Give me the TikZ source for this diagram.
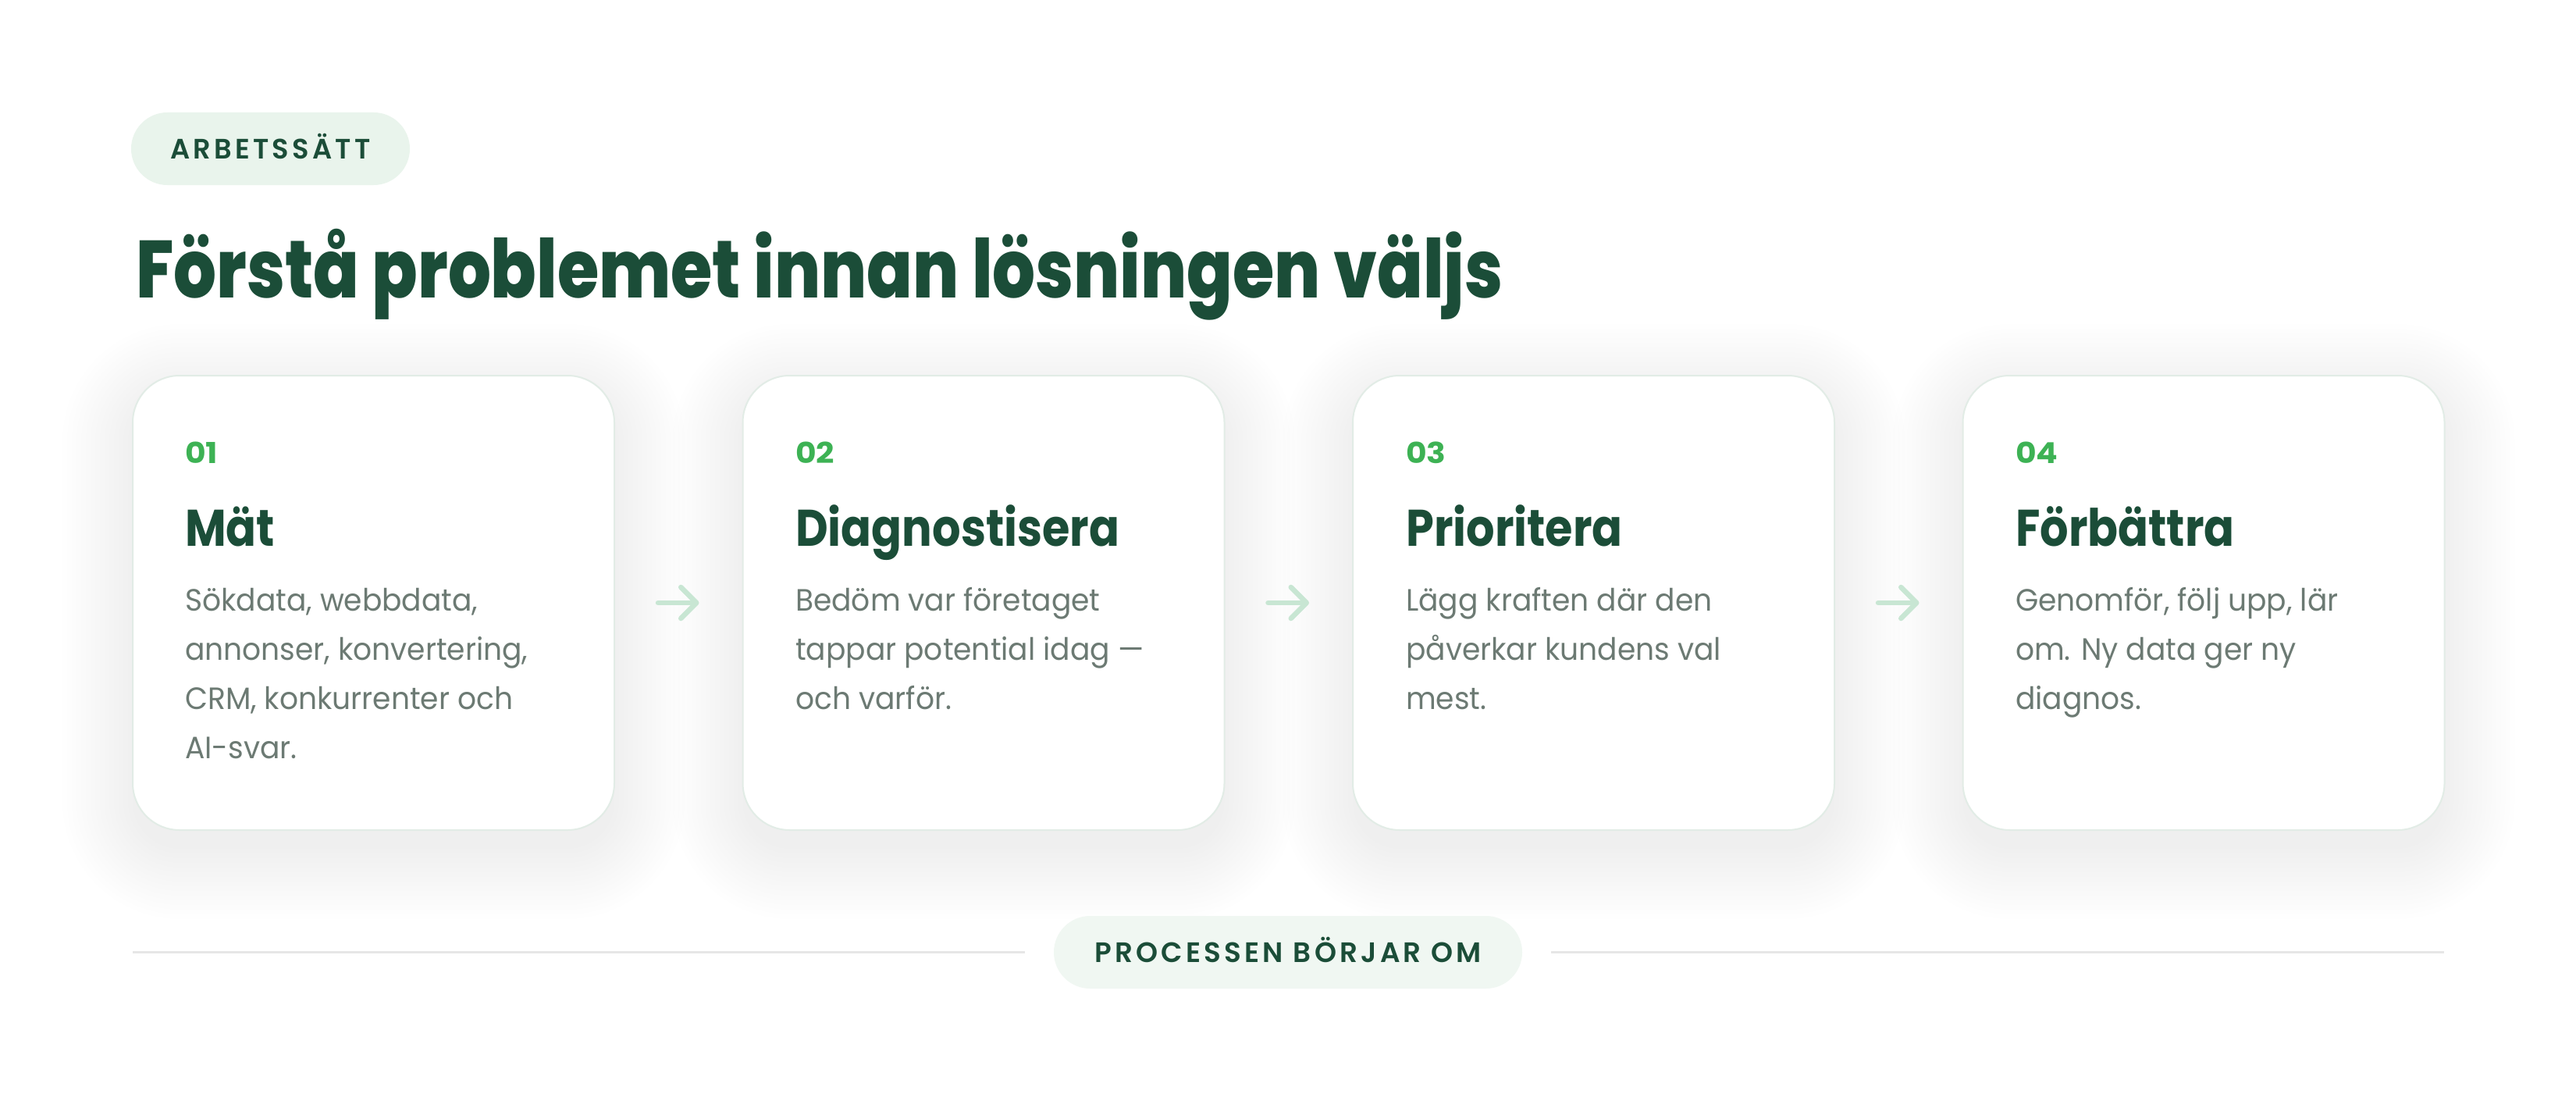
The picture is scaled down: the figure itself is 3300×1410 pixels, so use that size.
\documentclass[tikz,border=0pt]{standalone}
\usepackage{fontspec}
\setmainfont{Poppins}
\IfFontExistsTF{Poppins ExtraBold}{\newfontfamily\titlefont{Poppins ExtraBold}}{\newfontfamily\titlefont{Poppins}[UprightFont={* Bold}]}
\IfFontExistsTF{Poppins Bold}{\newfontfamily\headfont{Poppins Bold}}{\newfontfamily\headfont{Poppins}}
\IfFontExistsTF{Poppins SemiBold}{\newfontfamily\labelfont{Poppins SemiBold}[LetterSpace=12]}{\newfontfamily\labelfont{Poppins}[LetterSpace=12]}
\newfontfamily\bodyfont{Poppins}
\usetikzlibrary{arrows.meta,backgrounds}
\definecolor{dkgreen}{RGB}{27,77,56}
\definecolor{numgreen}{RGB}{61,178,84}
\definecolor{bodygray}{RGB}{108,122,115}
\definecolor{pillA}{RGB}{233,244,236}
\definecolor{pillB}{RGB}{240,247,242}
\definecolor{cardline}{RGB}{226,236,230}
\definecolor{arrowgreen}{RGB}{200,230,211}
\definecolor{rulegray}{RGB}{230,230,230}
\definecolor{shadowcol}{RGB}{20,50,35}
\newsavebox\fitbox
\newcommand\fitto[2]{\sbox\fitbox{#2}\pgfmathsetmacro\fitf{#1/\the\wd\fitbox}\scalebox{\fitf}[1]{\usebox\fitbox}}
\newcommand\bt[1]{\scalebox{\bodyf}[1]{\bodyfont\fontsize{39.5}{44}\selectfont #1}}
\newcommand\hd[1]{\scalebox{\headf}[1]{\headfont\fontsize{66}{70}\selectfont #1}}
\newcommand\nm[1]{\scalebox{\numf}[1]{\headfont\fontsize{37}{40}\selectfont #1}}
\begin{document}
\sbox\fitbox{\bodyfont\fontsize{39.5}{44}\selectfont annonser, konvertering,}%
\pgfmathsetmacro\bodyf{439/\the\wd\fitbox}%
\sbox\fitbox{\headfont\fontsize{66}{70}\selectfont Diagnostisera}%
\pgfmathsetmacro\headf{415/\the\wd\fitbox}%
\sbox\fitbox{\headfont\fontsize{37}{40}\selectfont 02}%
\pgfmathsetmacro\numf{50/\the\wd\fitbox}%
\begin{tikzpicture}[x=1pt,y=-1pt,
  card/.style={draw=cardline, line width=2pt, fill=white, rounded corners=60pt,
    minimum width=617pt, minimum height=582pt, inner sep=0pt, outer sep=0pt},
  pill/.style={fill=#1, rounded corners=46.5pt, minimum height=93pt, inner sep=0pt,
    outer sep=0pt, text height=26pt, text depth=0pt, text=dkgreen},
  num/.style={anchor=base west, inner sep=0pt, text=numgreen},
  head/.style={anchor=base west, inner sep=0pt, text=dkgreen},
  body/.style={anchor=base west, inner sep=0pt, text=bodygray},
  flow/.style={draw=arrowgreen, line width=6.5pt, line cap=round, shorten <=56pt, shorten >=56pt,
    -{Straight Barb[length=20pt,width=40pt,line join=round,line cap=round]}},
  rule/.style={draw=rulegray, line width=3pt},
]
\useasboundingbox (0,0) rectangle (3300,1410);

% header
\node[pill=pillA, minimum width=357pt] (tag) at (346.5,190.5)
  {\labelfont\fontsize{36}{40}\selectfont\fitto{256}{ARBETSSÄTT}};
\node[head] (title) at (174,381)
  {\titlefont\fontsize{104}{110}\selectfont\fitto{1751}{Förstå problemet innan lösningen väljs}};

% cards
\node[card] (c1) at (478.5,772) {};
\node[card] (c2) at (1260,772) {};
\node[card] (c3) at (2041.5,772) {};
\node[card] (c4) at (2823,772) {};

% card 1
\node[num]  (n1) at (237,593) {\nm{01}};
\node[head] (h1) at (237,699) {\hd{Mät}};
\node[body] (b11) at (237,782) {\bt{Sökdata, webbdata,}};
\node[body] (b12) at (237,845) {\bt{annonser, konvertering,}};
\node[body] (b13) at (237,908) {\bt{CRM, konkurrenter och}};
\node[body] (b14) at (237,971) {\bt{AI-svar.}};
% card 2
\node[num]  (n2) at (1019,593) {\nm{02}};
\node[head] (h2) at (1019,699) {\hd{Diagnostisera}};
\node[body] (b21) at (1019,782) {\bt{Bedöm var företaget}};
\node[body] (b22) at (1019,845) {\bt{tappar potential idag —}};
\node[body] (b23) at (1019,908) {\bt{och varför.}};
% card 3
\node[num]  (n3) at (1801,593) {\nm{03}};
\node[head] (h3) at (1801,699) {\hd{Prioritera}};
\node[body] (b31) at (1801,782) {\bt{Lägg kraften där den}};
\node[body] (b32) at (1801,845) {\bt{påverkar kundens val}};
\node[body] (b33) at (1801,908) {\bt{mest.}};
% card 4
\node[num]  (n4) at (2582,593) {\nm{04}};
\node[head] (h4) at (2582,699) {\hd{Förbättra}};
\node[body] (b41) at (2582,782) {\bt{Genomför, följ upp, lär}};
\node[body] (b42) at (2582,845) {\bt{om. Ny data ger ny}};
\node[body] (b43) at (2582,908) {\bt{diagnos.}};

% arrows
\draw[flow] (c1.east) -- (c2.west);
\draw[flow] (c2.east) -- (c3.west);
\draw[flow] (c3.east) -- (c4.west);

% bottom
\node[pill=pillB, minimum width=600pt] (restart) at (1650,1219.5)
  {\labelfont\fontsize{36}{40}\selectfont\fitto{496}{PROCESSEN BÖRJAR OM}};
\coordinate (ruleL) at (170,1219.5);
\coordinate (ruleR) at (3131,1219.5);
\draw[rule] (ruleL) -- ([xshift=-37pt]restart.west);
\draw[rule] ([xshift=37pt]restart.east) -- (ruleR);

% shadows and background
\begin{scope}[on background layer]
\fill[white] (0,0) rectangle (3300,1410);
\foreach \c in {c1,c2,c3,c4}{
  \foreach \i in {0,...,15}{
    \pgfmathsetmacro\e{6*\i}
    \pgfmathsetmacro\rr{60+6*\i}
    \fill[shadowcol, fill opacity=0.0028, rounded corners=\rr pt]
      ([shift={(-\e,-\e+24)}]\c.north west) rectangle ([shift={(\e,\e+24)}]\c.south east);
  }
}
\end{scope}
\end{tikzpicture}
\end{document}
